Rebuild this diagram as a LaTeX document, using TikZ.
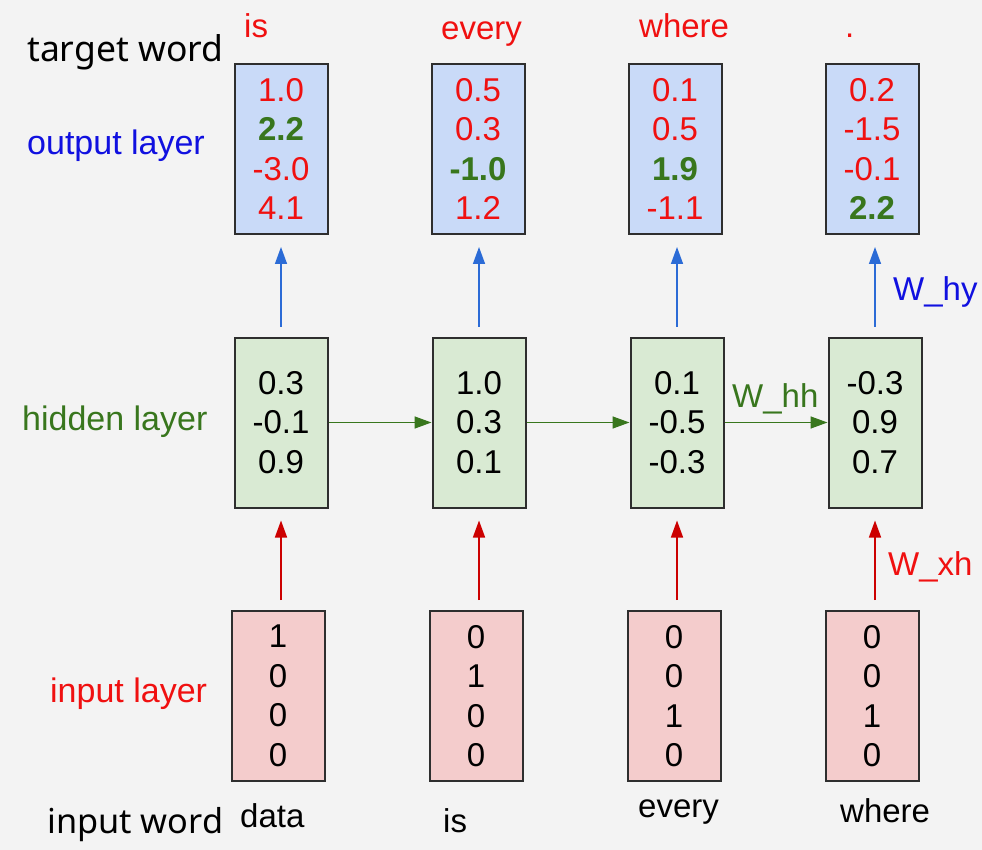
\documentclass[tikz,border=0pt]{standalone}
\usepackage{fontspec}
\setmainfont{Liberation Sans}
\newfontfamily\wordfont{Noto Sans}
\usetikzlibrary{arrows.meta}
\definecolor{bg}{HTML}{F3F3F3}
\definecolor{outfill}{HTML}{C9DAF8}
\definecolor{hidfill}{HTML}{D9EAD3}
\definecolor{infill}{HTML}{F4CCCC}
\definecolor{boxline}{HTML}{2E2E2E}
\definecolor{tred}{HTML}{F01010}
\definecolor{tgreen}{HTML}{38761D}
\definecolor{tblue}{HTML}{1010E0}
\definecolor{ablue}{HTML}{2B6BD6}
\definecolor{ared}{HTML}{CC0000}
\definecolor{agreen}{HTML}{38761D}
\tikzset{
  vbox/.style={draw=boxline, line width=2pt, minimum width=93pt, minimum height=170pt, inner sep=0pt, align=center, font=\fontsize{33}{39.5}\selectfont},
  outbox/.style={vbox, fill=outfill, text=tred},
  hidbox/.style={vbox, fill=hidfill},
  inbox/.style={vbox, fill=infill},
  lbl/.style={anchor=base west, inner sep=0pt, font=\fontsize{34}{40}\selectfont},
  wlbl/.style={anchor=base west, inner sep=0pt, font=\wordfont\fontsize{35.5}{40}\selectfont},
  word/.style={anchor=base west, inner sep=0pt, font=\fontsize{33}{40}\selectfont},
  arr/.style={line width=1.5pt, -{Triangle[length=17pt,width=12pt]}},
}
\newcommand{\gb}[1]{\textcolor{tgreen}{\bfseries #1}}
\begin{document}
\begin{tikzpicture}[x=1pt,y=-1pt]
\useasboundingbox (0,0) rectangle (982,850);
\fill[bg] (0,0) rectangle (982,850);
% output boxes
\node[outbox] (o1) at (281,149) {1.0\\\gb{2.2}\\-3.0\\4.1};
\node[outbox] (o2) at (478,149) {0.5\\0.3\\\gb{-1.0}\\1.2};
\node[outbox] (o3) at (675,149) {0.1\\0.5\\\gb{1.9}\\-1.1};
\node[outbox] (o4) at (872,149) {0.2\\-1.5\\-0.1\\\gb{2.2}};
% hidden boxes
\node[hidbox] (h1) at (281,422.5) {0.3\\-0.1\\0.9};
\node[hidbox] (h2) at (479,422.5) {1.0\\0.3\\0.1};
\node[hidbox] (h3) at (677,422.5) {0.1\\-0.5\\-0.3};
\node[hidbox] (h4) at (875,422.5) {-0.3\\0.9\\0.7};
% input boxes
\node[inbox] (i1) at (278,696) {1\\0\\0\\0};
\node[inbox] (i2) at (476,696) {0\\1\\0\\0};
\node[inbox] (i3) at (674,696) {0\\0\\1\\0};
\node[inbox] (i4) at (872,696) {0\\0\\1\\0};
% arrows
\foreach \k in {1,2,3,4}{
  \draw[arr, ablue, shorten <=10pt, shorten >=12pt] (h\k.north) -- (h\k.north |- o\k.south);
  \draw[arr, ared, shorten <=10pt, shorten >=12pt] (i\k.north -| h\k.south) -- (h\k.south);
}
\draw[arr, agreen] (h1.east) -- (h2.west);
\draw[arr, agreen] (h2.east) -- (h3.west);
\draw[arr, agreen] (h3.east) -- (h4.west);
% weight labels
\node[word, text=tgreen] (whh) at (732,407) {W\_hh};
\node[word, text=tblue] (why) at (893,300) {W\_hy};
\node[word, text=tred] (wxh) at (888,575) {W\_xh};
% row labels
\node[wlbl] (tw) at (27,62) {target word};
\node[lbl, text=tblue] (ol) at (27,155) {output layer};
\node[lbl, text=tgreen] (hl) at (22,430) {hidden layer};
\node[lbl, text=tred] (il) at (50,702) {input layer};
\node[wlbl, font=\wordfont\fontsize{34.3}{40}\selectfont] (iw) at (47,833) {input word};
% target words
\node[word, text=tred] (t1) at (244,38) {is};
\node[word, text=tred] (t2) at (441,40) {every};
\node[word, text=tred] (t3) at (639,38) {where};
\node[word, text=tred] (t4) at (845,38) {.};
% input words
\node[word] (w1) at (240,827) {data};
\node[word] (w2) at (443,832) {is};
\node[word] (w3) at (638,817) {every};
\node[word] (w4) at (840,822) {where};
\end{tikzpicture}
\end{document}
